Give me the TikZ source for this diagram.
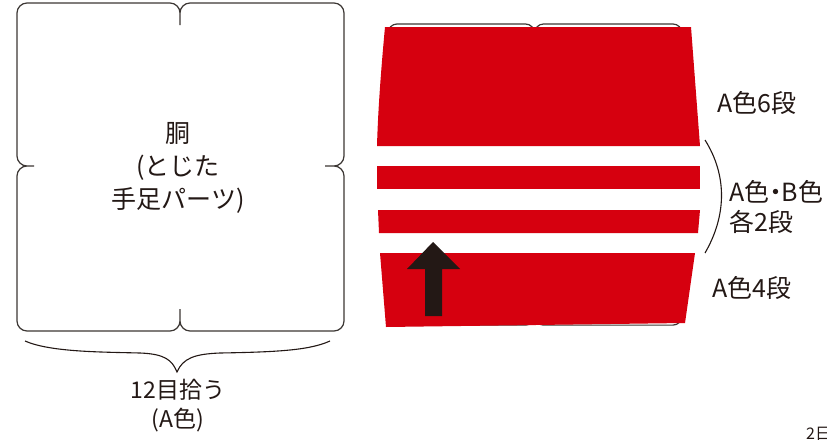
\documentclass[tikz,border=0pt]{standalone}
\usepackage{fontspec}
\setmainfont{Noto Sans CJK JP}
\definecolor{ink}{RGB}{35,24,21}
\definecolor{redA}{RGB}{214,0,15}
\definecolor{edge}{RGB}{60,55,52}
\newcommand{\bodyshape}{%
  (27,3) -- (170,3) .. controls (175.5,3) and (180,7.5) .. (180,13)
  .. controls (180,7.5) and (184.5,3) .. (190,3) -- (334,3)
  .. controls (339.5,3) and (344,7.5) .. (344,13) -- (344,156)
  .. controls (344,161.5) and (339.5,166) .. (334,166)
  .. controls (339.5,166) and (344,170.5) .. (344,176) -- (344,321)
  .. controls (344,326.5) and (339.5,331) .. (334,331) -- (190,331)
  .. controls (184.5,331) and (180,326.5) .. (180,321)
  .. controls (180,326.5) and (175.5,331) .. (170,331) -- (27,331)
  .. controls (21.5,331) and (17,326.5) .. (17,321) -- (17,176)
  .. controls (17,170.5) and (21.5,166) .. (27,166)
  .. controls (21.5,166) and (17,161.5) .. (17,156) -- (17,13)
  .. controls (17,7.5) and (21.5,3) .. (27,3) -- cycle
  (180,13) -- (180,25) (334,166) -- (325,166)
  (180,321) -- (180,309) (27,166) -- (34,166)}
\tikzset{
  outline/.style={draw=edge, line width=1.2pt, fill=white},
  lbl/.style={text=ink, font=\fontsize{25}{30}\selectfont, inner sep=0pt},
  brace/.style={draw=ink, line width=1.1pt},
}
\begin{document}
\begin{tikzpicture}[x=1pt,y=-1pt]
\useasboundingbox (0,0) rectangle (827,439);
% left body piece
\path[outline] \bodyshape;
\node[lbl, align=center, font=\fontsize{25}{33}\selectfont] (body) at (178,168) {胴\\(とじた\\手足パーツ)};
% bottom brace
\coordinate (bl) at (25,341);
\coordinate (btip) at (177,372);
\coordinate (br) at (330,341);
\draw[brace] (bl) .. controls (50,352) and (100,352) .. (140,353)
  .. controls (165,354) and (172,360) .. (btip)
  .. controls (183,358) and (195,354) .. (220,353)
  .. controls (280,352) and (310,350) .. (br);
\node[lbl, align=center, font=\fontsize{23}{29}\selectfont] (pick) at (178,406) {12目拾う\\(A色)};
% knitted piece behind
\begin{scope}[shift={(388-17*0.899,24-3*0.918)}, xscale=0.899, yscale=0.918]
  \path[outline, line width=1.2pt] \bodyshape;
\end{scope}
% white gaps between stripes
\fill[white] (374,146) rectangle (703,166);
\fill[white] (374,189) rectangle (703,210);
\fill[white] (374,233) rectangle (703,253);
% red stripes
\fill[redA] (385,27) .. controls (381,70) and (378,110) .. (377,146) -- (700,146) -- (691,27) -- cycle;
\fill[redA] (377,166) -- (700,166) -- (700,189) -- (377,189) -- cycle;
\fill[redA] (378,210) -- (700,210) -- (698,233) -- (379,233) -- cycle;
\fill[redA] (380,253) -- (695,253) -- (685,323) -- (386,327) -- cycle;
% arrow
\fill[ink] (433,242) -- (460,269) -- (442,269) -- (442,316) -- (425,316) -- (425,269) -- (407,269) -- cycle;
% right labels
\node[lbl] (a6) at (757,103) {A色6段};
\coordinate (pt) at (705,140);
\coordinate (pb) at (705,253);
\draw[brace] (pt) .. controls (727,175) and (727,215) .. (pb);
\node[lbl, anchor=west, align=left] (ab) at (729,207) {A色\makebox[0.5em]{・}B色\\各2段};
\node[lbl] (a4) at (752,288) {A色4段};
\node[text=ink, font=\fontsize{16}{16}\selectfont, anchor=north west, inner sep=0pt] (pg) at (806,427) {2日};
\end{tikzpicture}
\end{document}
